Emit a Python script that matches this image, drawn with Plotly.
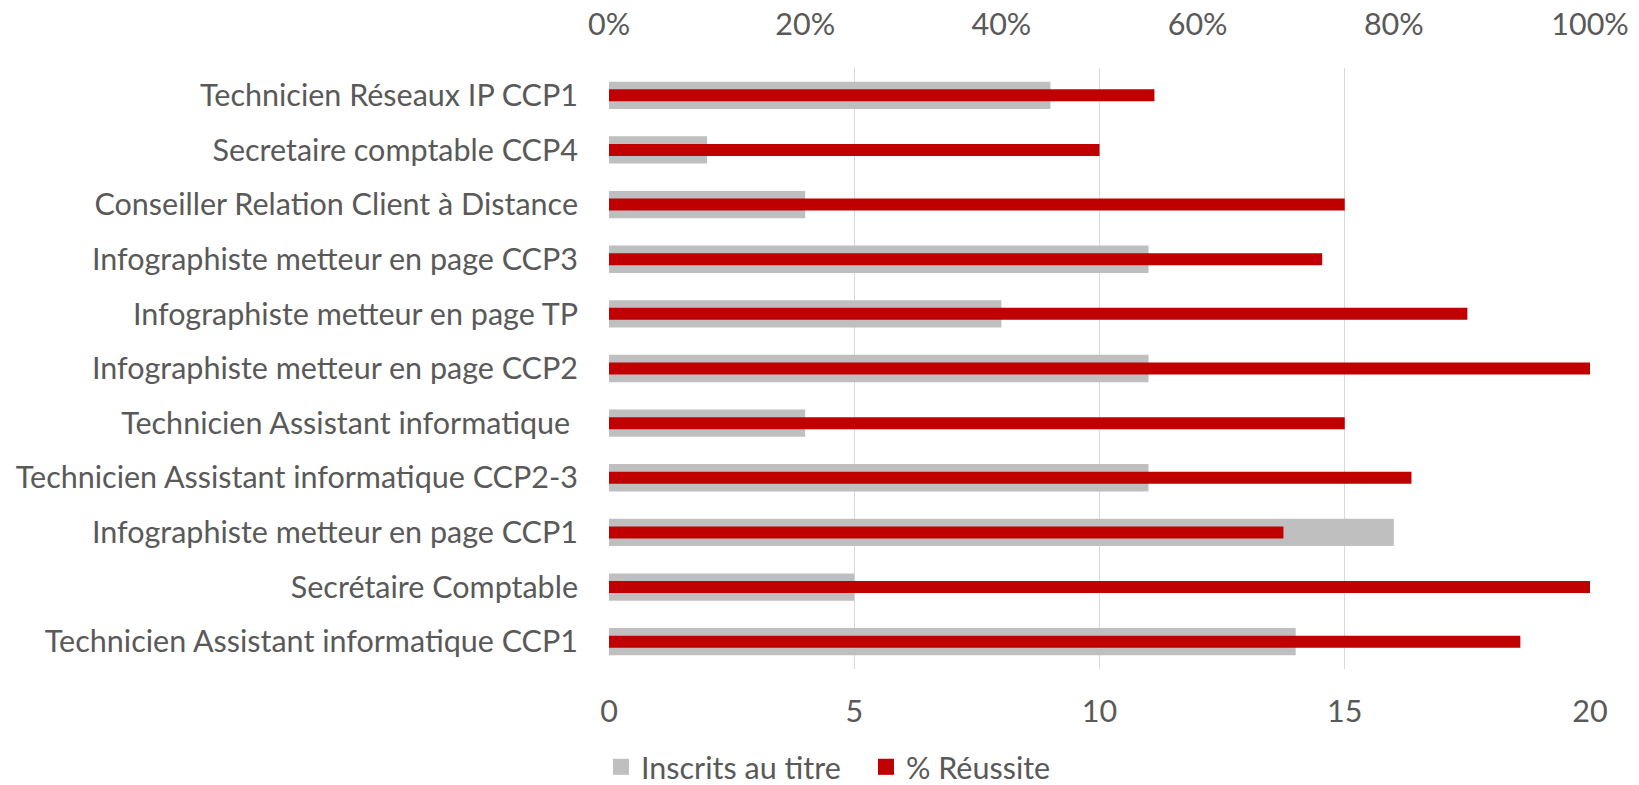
import plotly.graph_objects as go

categories = [
    "Technicien Réseaux IP CCP1",
    "Secretaire comptable CCP4",
    "Conseiller Relation Client à Distance",
    "Infographiste metteur en page CCP3",
    "Infographiste metteur en page TP",
    "Infographiste metteur en page CCP2",
    "Technicien Assistant informatique ",
    "Technicien Assistant informatique CCP2-3",
    "Infographiste metteur en page CCP1",
    "Secrétaire Comptable",
    "Technicien Assistant informatique CCP1",
]
inscrits = [9, 2, 4, 11, 8, 11, 4, 11, 16, 5, 14]
reussite = [0.556, 0.50, 0.75, 0.727, 0.875, 1.0, 0.75, 0.818, 0.6875, 1.0, 0.929]

FONT = "Lato"
TXT = "#595959"
FS = 30.5
GRAY = "#BFBFBF"
RED = "#C00000"

fig = go.Figure()
fig.add_trace(go.Bar(
    y=categories, x=inscrits, orientation="h", name="Inscrits au titre",
    marker=dict(color=GRAY, line=dict(width=0)), width=0.5,
    xaxis="x", yaxis="y", showlegend=False,
))
fig.add_trace(go.Bar(
    y=categories, x=reussite, orientation="h", name="% Réussite",
    marker=dict(color=RED, line=dict(width=0)), width=0.22,
    xaxis="x2", yaxis="y", showlegend=False,
))
# legend entries with larger square swatches
for nm, col in [("Inscrits au titre", GRAY), ("% Réussite", RED)]:
    fig.add_trace(go.Scatter(
        x=[None], y=[None], mode="markers", name=nm,
        marker=dict(symbol="square", size=18, color=col, line=dict(width=0)),
        xaxis="x", yaxis="y", showlegend=True,
    ))

fig.update_layout(
    width=1639, height=785,
    margin=dict(l=609, r=49, t=68, b=116, autoexpand=False),
    paper_bgcolor="white", plot_bgcolor="white",
    barmode="overlay",
    font=dict(family=FONT, size=FS, color=TXT),
    showlegend=True,
    legend=dict(orientation="h", xref="container", yref="container",
                x=601 / 1639, xanchor="left", y=1 - 767 / 785, yanchor="middle",
                font=dict(family=FONT, size=FS, color=TXT), traceorder="normal",
                entrywidth=220, entrywidthmode="pixels", itemsizing="trace",
                bgcolor="rgba(0,0,0,0)"),
    xaxis=dict(range=[0, 20], dtick=5, showgrid=True, gridcolor="#D9D9D9", gridwidth=1.3,
               zeroline=False, showline=False, ticks="", side="bottom", automargin=False,
               ticklabelstandoff=21, tickfont=dict(size=FS, color=TXT)),
    xaxis2=dict(range=[0, 1], dtick=0.2, tickformat=".0%", overlaying="x", side="top",
                showgrid=False, zeroline=False, showline=False, ticks="", automargin=False,
                ticklabelstandoff=26, tickfont=dict(size=FS, color=TXT)),
    yaxis=dict(categoryorder="array", categoryarray=categories, autorange="reversed",
               showgrid=False, zeroline=False, showline=False, ticks="", automargin=False,
               ticklabelstandoff=30, tickfont=dict(size=FS, color=TXT)),
)

fig.write_html(
    "out.html",
    config={"displayModeBar": False},
    post_script="document.body.style.margin='0';document.body.style.overflow='hidden';",
)
